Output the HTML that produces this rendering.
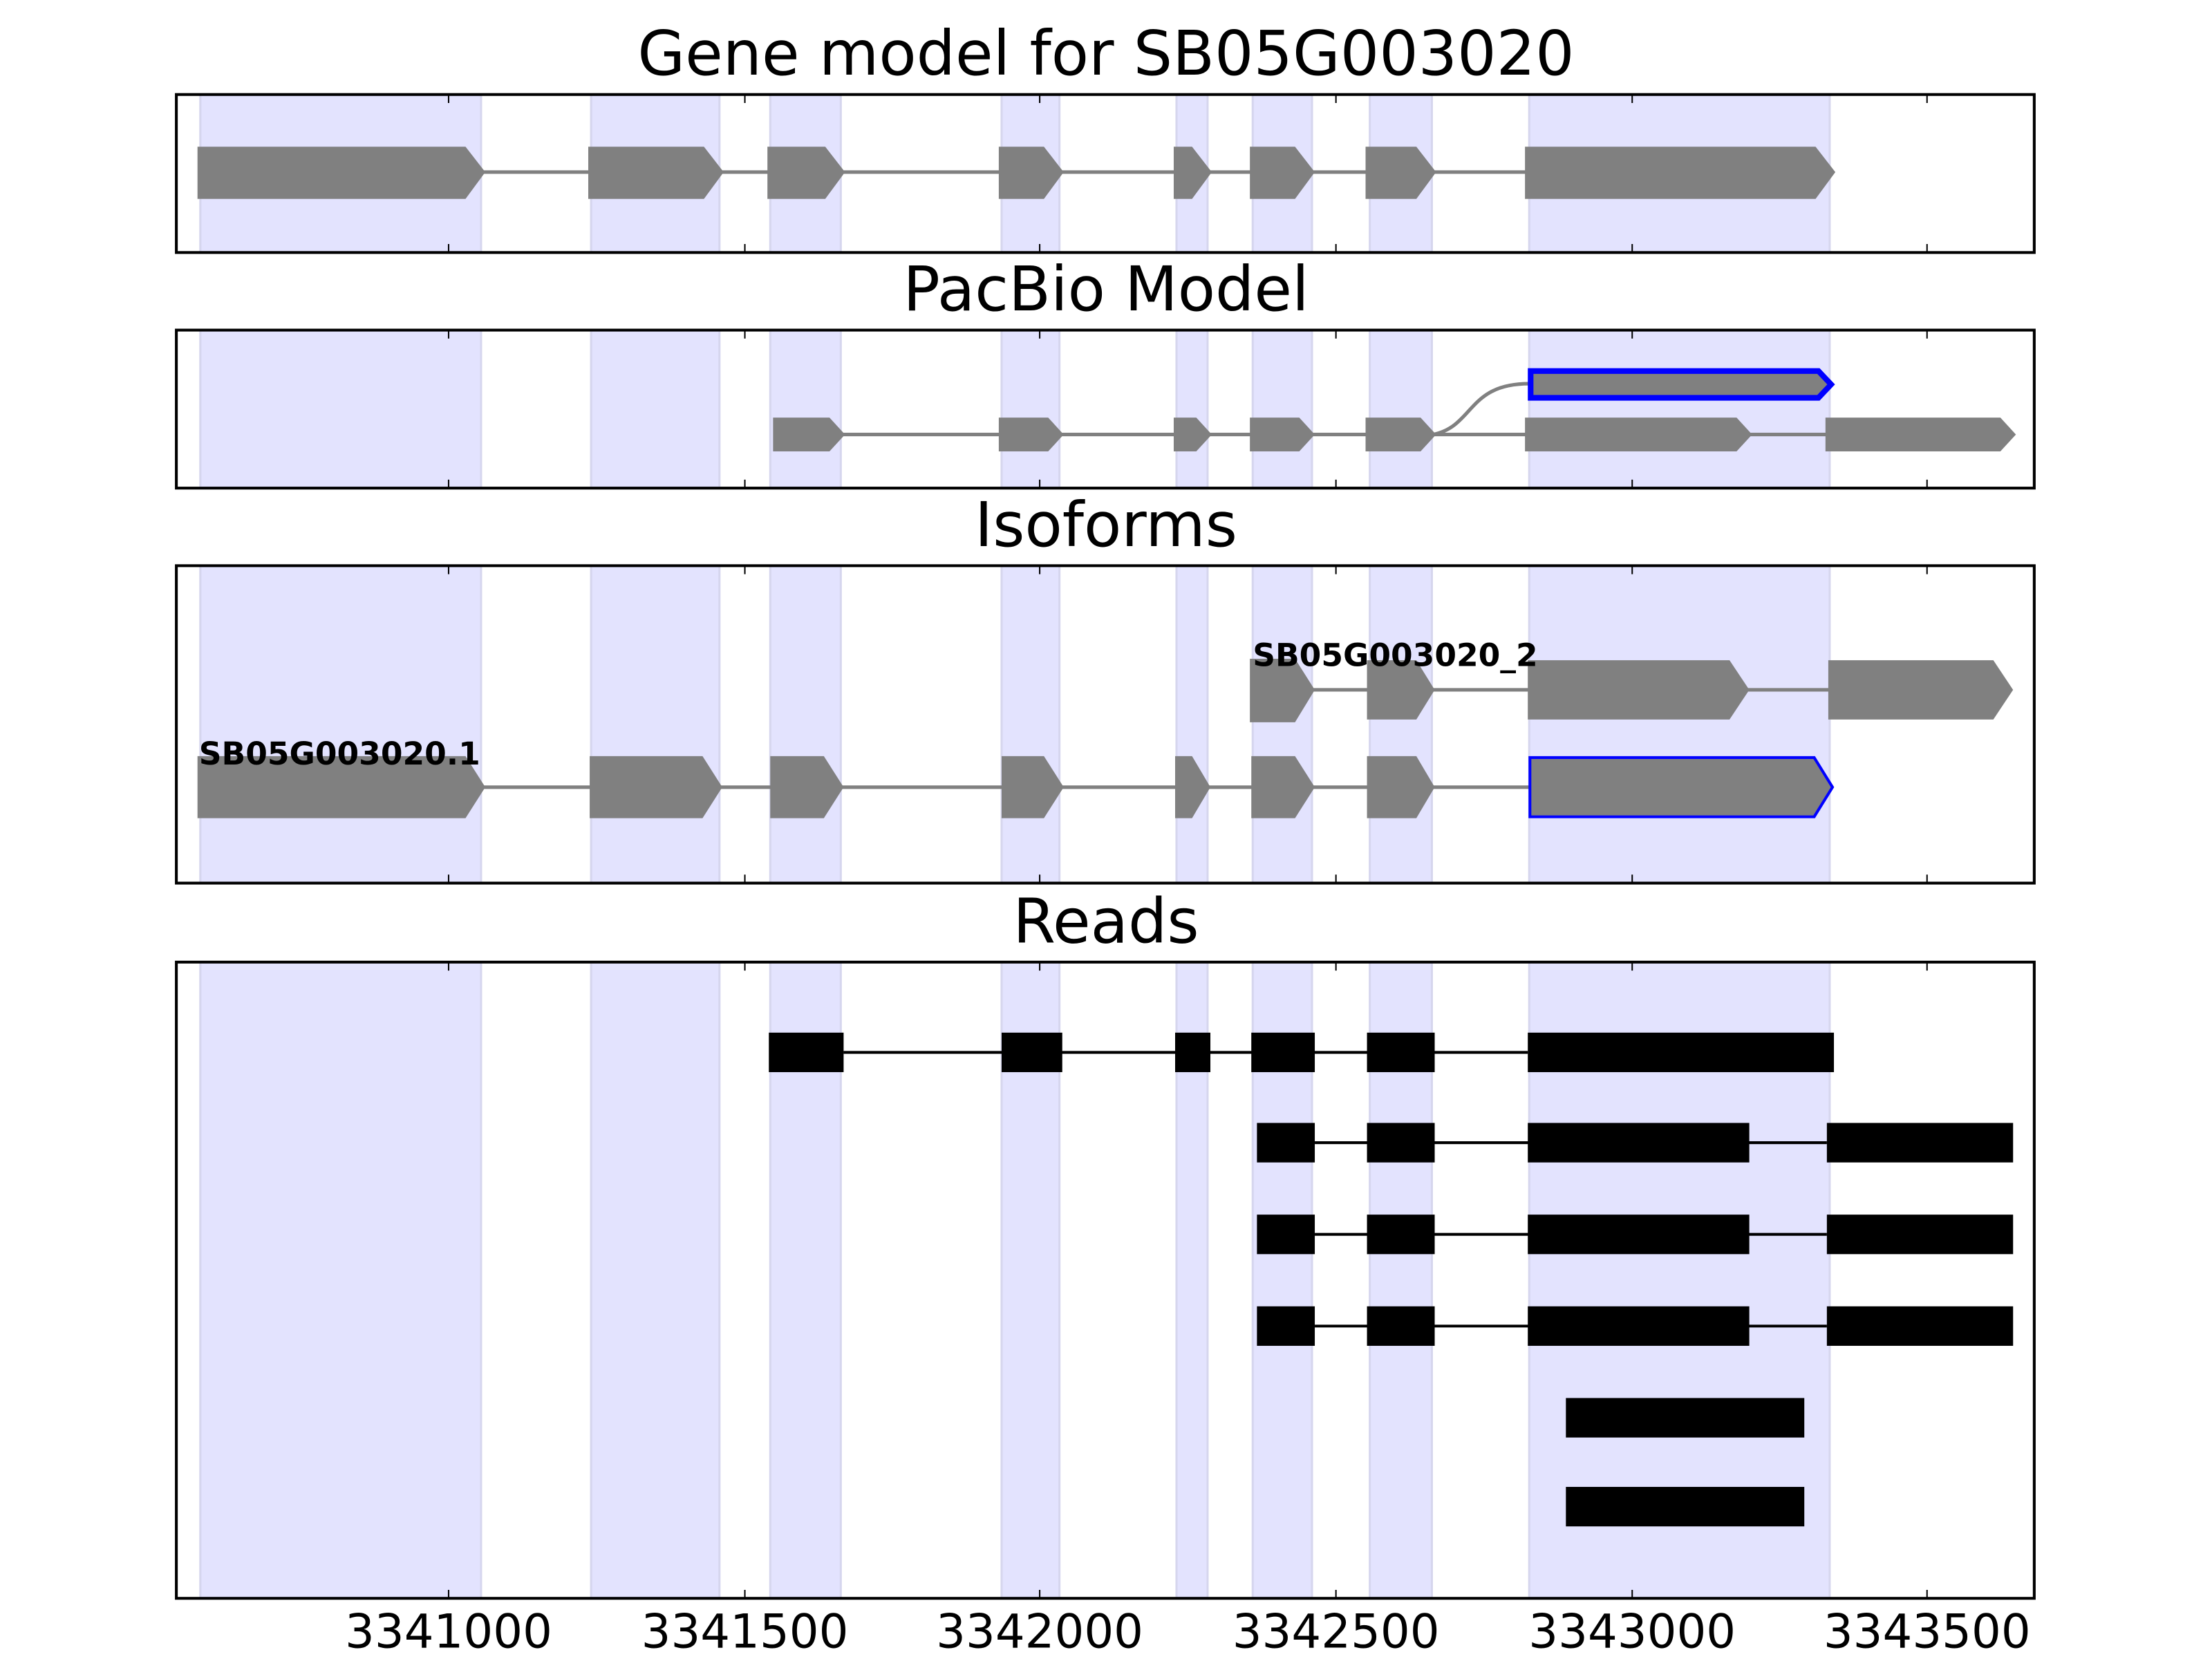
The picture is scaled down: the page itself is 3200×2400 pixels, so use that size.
<!DOCTYPE html>
<html><head><meta charset="utf-8"><style>html,body{margin:0;padding:0;background:#fff;overflow:hidden}svg{display:block}</style></head>
<body>
<svg width="3200" height="2400" viewBox="0 0 1568 1176" xmlns="http://www.w3.org/2000/svg" font-family="DejaVu Sans, Liberation Sans, sans-serif">
<defs>
<g id="bands">
<g fill="#e3e3fe" stroke="#d6d6ee" stroke-width="1.5">
<rect x="142" y="0" width="199" height="1000"/>
<rect x="419" y="0" width="91" height="1000"/>
<rect x="546" y="0" width="50" height="1000"/>
<rect x="710" y="0" width="41" height="1000"/>
<rect x="834" y="0" width="22" height="1000"/>
<rect x="888" y="0" width="42" height="1000"/>
<rect x="971" y="0" width="44" height="1000"/>
<rect x="1084" y="0" width="213" height="1000"/>
</g>
</g>
</defs>

<g font-size="43.5" text-anchor="middle" fill="#000">
<text x="784" y="53">Gene model for SB05G003020</text>
<text x="784" y="220">PacBio Model</text>
<text x="784" y="387">Isoforms</text>
<text x="784" y="668">Reads</text>
</g>

<svg x="125" y="67" width="1317" height="112" viewBox="125 0 1317 112" overflow="hidden"><use href="#bands"/></svg>
<g stroke="#808080" stroke-width="2.5"><line x1="340" y1="122" x2="1085" y2="122"/></g>
<g fill="#808080">
<polygon points="140,104 330,104 344,122 330,141 140,141"/>
<polygon points="417,104 499,104 513,122 499,141 417,141"/>
<polygon points="544,104 585,104 599,122 585,141 544,141"/>
<polygon points="708,104 740,104 754,122 740,141 708,141"/>
<polygon points="832,104 845,104 859,122 845,141 832,141"/>
<polygon points="886,104 918,104 932,122 918,141 886,141"/>
<polygon points="968,104 1004,104 1018,122 1004,141 968,141"/>
<polygon points="1081,104 1287,104 1301,122 1287,141 1081,141"/>
</g>

<svg x="125" y="234" width="1317" height="112" viewBox="125 0 1317 112" overflow="hidden"><use href="#bands"/></svg>
<g stroke="#808080" stroke-width="2.5" fill="none">
<line x1="595" y1="308" x2="1296" y2="308"/>
<path d="M1016,308 C1045,302 1040,272 1084,272"/>
</g>
<g fill="#808080">
<polygon points="548,296 588,296 599,308 588,320 548,320"/>
<polygon points="708,296 743,296 754,308 743,320 708,320"/>
<polygon points="832,296 848,296 859,308 848,320 832,320"/>
<polygon points="886,296 921,296 932,308 921,320 886,320"/>
<polygon points="968,296 1007,296 1018,308 1007,320 968,320"/>
<polygon points="1081,296 1231,296 1242,308 1231,320 1081,320"/>
<polygon points="1294,296 1418,296 1429,308 1418,320 1294,320"/>
<polygon points="1085,263 1289,263 1298,272.5 1289,282 1085,282" stroke="#0000ff" stroke-width="4"/>
</g>

<svg x="125" y="401" width="1317" height="225" viewBox="125 0 1317 225" overflow="hidden"><use href="#bands"/></svg>
<g stroke="#808080" stroke-width="2.5">
<line x1="930" y1="489" x2="1298" y2="489"/>
<line x1="340" y1="558" x2="1085" y2="558"/>
</g>
<g fill="#808080">
<polygon points="886,467 918,467 932,489 918,512 886,512"/>
<polygon points="969,468 1004,468 1017,489 1004,510 969,510"/>
<polygon points="1083,468 1226,468 1240,489 1226,510 1083,510"/>
<polygon points="1296,468 1413,468 1427,489 1413,510 1296,510"/>
<polygon points="140,536 330,536 344,558 330,580 140,580"/>
<polygon points="418,536 498,536 512,558 498,580 418,580"/>
<polygon points="546,536 584,536 598,558 584,580 546,580"/>
<polygon points="710,536 740,536 754,558 740,580 710,580"/>
<polygon points="833,536 845,536 858,558 845,580 833,580"/>
<polygon points="887,536 918,536 932,558 918,580 887,580"/>
<polygon points="969,536 1004,536 1017,558 1004,580 969,580"/>
<polygon points="1084.5,537 1286,537 1299,558 1286,579 1084.5,579" stroke="#0000ff" stroke-width="2"/>
</g>
<g font-size="22.3" font-weight="bold" fill="#000">
<text x="888" y="472">SB05G003020_2</text>
<text x="141" y="542">SB05G003020.1</text>
</g>

<svg x="125" y="682" width="1317" height="451" viewBox="125 0 1317 451" overflow="hidden"><use href="#bands"/></svg>
<g stroke="#000" stroke-width="2">
<line x1="598" y1="746" x2="1083" y2="746"/>
<line x1="932" y1="810" x2="1295" y2="810"/>
<line x1="932" y1="875" x2="1295" y2="875"/>
<line x1="932" y1="940" x2="1295" y2="940"/>
</g>
<g fill="#000">
<rect x="545" y="732" width="53" height="28"/>
<rect x="710" y="732" width="43" height="28"/>
<rect x="833" y="732" width="25" height="28"/>
<rect x="887" y="732" width="45" height="28"/>
<rect x="969" y="732" width="48" height="28"/>
<rect x="1083" y="732" width="217" height="28"/>
<rect x="891" y="796" width="41" height="28"/>
<rect x="969" y="796" width="48" height="28"/>
<rect x="1083" y="796" width="157" height="28"/>
<rect x="1295" y="796" width="132" height="28"/>
<rect x="891" y="861" width="41" height="28"/>
<rect x="969" y="861" width="48" height="28"/>
<rect x="1083" y="861" width="157" height="28"/>
<rect x="1295" y="861" width="132" height="28"/>
<rect x="891" y="926" width="41" height="28"/>
<rect x="969" y="926" width="48" height="28"/>
<rect x="1083" y="926" width="157" height="28"/>
<rect x="1295" y="926" width="132" height="28"/>
<rect x="1110" y="991" width="169" height="28"/>
<rect x="1110" y="1054" width="169" height="28"/>
</g>

<g fill="none" stroke="#000" stroke-width="2">
<rect x="125" y="67" width="1317" height="112"/>
<rect x="125" y="234" width="1317" height="112"/>
<rect x="125" y="401" width="1317" height="225"/>
<rect x="125" y="682" width="1317" height="451"/>
</g>
<g stroke="#000" stroke-width="1">
<path d="M318,67v6M528,67v6M737,67v6M947,67v6M1157,67v6M1366,67v6 M318,179v-6M528,179v-6M737,179v-6M947,179v-6M1157,179v-6M1366,179v-6"/>
<path d="M318,234v6M528,234v6M737,234v6M947,234v6M1157,234v6M1366,234v6 M318,346v-6M528,346v-6M737,346v-6M947,346v-6M1157,346v-6M1366,346v-6"/>
<path d="M318,401v6M528,401v6M737,401v6M947,401v6M1157,401v6M1366,401v6 M318,626v-6M528,626v-6M737,626v-6M947,626v-6M1157,626v-6M1366,626v-6"/>
<path d="M318,682v6M528,682v6M737,682v6M947,682v6M1157,682v6M1366,682v6 M318,1133v-6M528,1133v-6M737,1133v-6M947,1133v-6M1157,1133v-6M1366,1133v-6"/>
</g>
<g font-size="33" text-anchor="middle" fill="#000">
<text x="318" y="1168">3341000</text>
<text x="528" y="1168">3341500</text>
<text x="737" y="1168">3342000</text>
<text x="947" y="1168">3342500</text>
<text x="1157" y="1168">3343000</text>
<text x="1366" y="1168">3343500</text>
</g>
</svg>
</body></html>
